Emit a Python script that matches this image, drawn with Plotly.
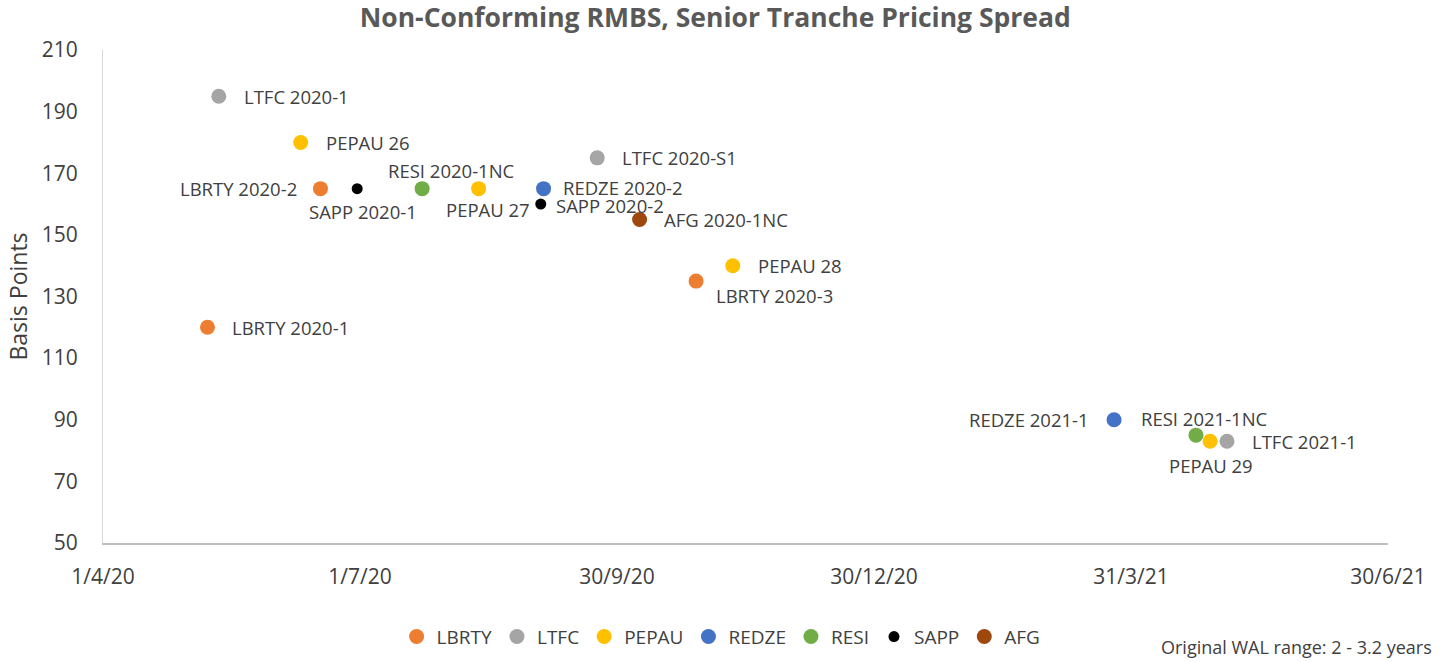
import plotly.graph_objects as go

# ---- data ----
deals = ["LTFC 2020-1", "LBRTY 2020-1", "PEPAU 26", "LBRTY 2020-2", "SAPP 2020-1",
         "RESI 2020-1NC", "PEPAU 27", "SAPP 2020-2", "REDZE 2020-2", "LTFC 2020-S1",
         "AFG 2020-1NC", "LBRTY 2020-3", "PEPAU 28", "REDZE 2021-1", "RESI 2021-1NC",
         "PEPAU 29", "LTFC 2021-1"]
issuers = ["LTFC", "LBRTY", "PEPAU", "LBRTY", "SAPP",
           "RESI", "PEPAU", "SAPP", "REDZE", "LTFC",
           "AFG", "LBRTY", "PEPAU", "REDZE", "RESI",
           "PEPAU", "LTFC"]
pricing_dates = ["2020-05-12", "2020-05-08", "2020-06-10", "2020-06-17", "2020-06-30",
                 "2020-07-23", "2020-08-12", "2020-09-03", "2020-09-04", "2020-09-23",
                 "2020-10-08", "2020-10-28", "2020-11-10", "2021-03-25", "2021-04-23",
                 "2021-04-28", "2021-05-04"]
spreads_bp = [195, 120, 180, 165, 165,
              165, 165, 160, 165, 175,
              155, 135, 140, 90, 85,
              83, 83]

series_order = ["LBRTY", "LTFC", "PEPAU", "REDZE", "RESI", "SAPP", "AFG"]
tick_dates = ["2020-04-01", "2020-07-01", "2020-09-30", "2020-12-30", "2021-03-31", "2021-06-30"]
tick_labels = ["1/4/20", "1/7/20", "30/9/20", "30/12/20", "31/3/21", "30/6/21"]

# ---- styles ----
colors = {"LBRTY": "#ED7D31", "LTFC": "#A5A5A5", "PEPAU": "#FFC000", "REDZE": "#4472C4",
          "RESI": "#70AD47", "SAPP": "#000000", "AFG": "#9E480E"}
marker_size = {"SAPP": 11}
FONT = "Open Sans"
TXT = "#404040"

# label placement: (xanchor, xshift, yshift)
placement = {
    "LTFC 2020-1": ("left", 23, 0), "LBRTY 2020-1": ("left", 23, 0),
    "PEPAU 26": ("left", 23, 0), "LBRTY 2020-2": ("right", -21, 0),
    "SAPP 2020-1": ("center", 6, -23), "RESI 2020-1NC": ("center", 29, 18),
    "PEPAU 27": ("center", 9, -21), "SAPP 2020-2": ("left", 13, -1),
    "REDZE 2020-2": ("left", 17, 1), "LTFC 2020-S1": ("left", 23, 0),
    "AFG 2020-1NC": ("left", 22, 0), "LBRTY 2020-3": ("left", 18, -14),
    "PEPAU 28": ("left", 23, 0), "REDZE 2021-1": ("right", -23, 0),
    "RESI 2021-1NC": ("center", 9, 17), "PEPAU 29": ("center", 1, -24),
    "LTFC 2021-1": ("left", 23, 0),
}

fig = go.Figure()
for s in series_order:
    idx = [i for i, iss in enumerate(issuers) if iss == s]
    fig.add_trace(go.Scatter(
        x=[pricing_dates[i] for i in idx],
        y=[spreads_bp[i] for i in idx],
        mode="markers", name=s,
        marker=dict(color=colors[s], size=marker_size.get(s, 15), line=dict(width=0)),
    ))

annotations = []
for d, x, y in zip(deals, pricing_dates, spreads_bp):
    xa, xs, ys = placement[d]
    annotations.append(dict(x=x, y=y, xref="x", yref="y", text=d, showarrow=False,
                            xanchor=xa, yanchor="middle", xshift=xs, yshift=ys,
                            font=dict(family=FONT, size=18.5, color=TXT)))
annotations.append(dict(x=1, y=0, xref="paper", yref="paper", yshift=-104, xshift=46,
                        text="Original WAL range: 2 - 3.2 years", showarrow=False,
                        xanchor="right", yanchor="middle",
                        font=dict(family=FONT, size=18, color=TXT)))

fig.update_layout(
    width=1445, height=662,
    margin=dict(l=103, r=57, t=50, b=119, autoexpand=False),
    paper_bgcolor="white", plot_bgcolor="white",
    title=dict(text="<b>Non-Conforming RMBS, Senior Tranche Pricing Spread</b>",
               x=0.495, xanchor="center", y=0.973, yanchor="middle",
               font=dict(family=FONT, size=26.5, color="#595959")),
    font=dict(family=FONT, color=TXT),
    showlegend=True,
    legend=dict(orientation="h", x=0.481, xanchor="center", y=-0.19, yanchor="middle",
                font=dict(family=FONT, size=19, color=TXT), itemwidth=30,
                tracegroupgap=0),
    annotations=annotations,
    xaxis=dict(type="date", range=["2020-04-01", "2021-06-30"],
               tickvals=tick_dates, ticktext=tick_labels, automargin=False,
               showgrid=False, zeroline=False, showline=True, linecolor="#BFBFBF", linewidth=2,
               ticks="", ticklabelstandoff=14,
               tickfont=dict(family=FONT, size=21, color=TXT)),
    yaxis=dict(range=[50, 210], tickvals=list(range(50, 211, 20)), automargin=False,
               showgrid=False, zeroline=False, showline=True, linecolor="#D9D9D9", linewidth=1,
               ticks="", ticklabelstandoff=20,
               tickfont=dict(family=FONT, size=21, color=TXT),
               title=dict(text="Basis Points", standoff=7,
                          font=dict(family=FONT, size=23, color=TXT))),
)

fig.write_html("out.html", config={"displayModeBar": False},
               post_script="document.body.style.margin='0px';")
